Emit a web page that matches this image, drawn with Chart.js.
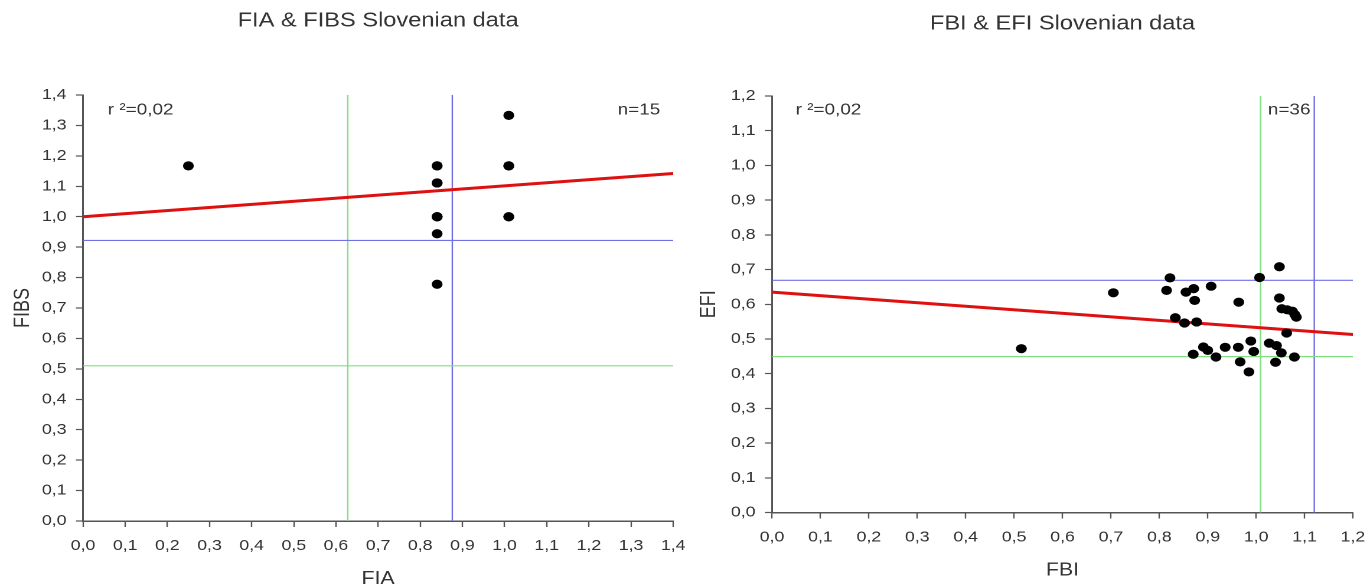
<!DOCTYPE html>
<html>
<head>
<meta charset="utf-8">
<script src="https://cdn.jsdelivr.net/npm/chart.js@4/dist/chart.umd.min.js"></script>
<style>
  html, body { margin: 0; padding: 0; background: #fff; }
  body { width: 1370px; height: 588px; position: relative; overflow: hidden; }
  /* each panel is drawn narrower and stretched sideways, like the exported figure */
  .panel { position: absolute; top: 0; width: 580px; height: 588px; transform: scaleX(1.181); transform-origin: 0 0; }
  #panelA { left: 0; }
  #panelB { left: 685px; }
</style>
</head>
<body>
<div class="panel" id="panelA"><canvas id="fiaChart"></canvas></div>
<div class="panel" id="panelB"><canvas id="fbiChart"></canvas></div>
<script>
const FONT = '"Liberation Sans", Arial, sans-serif';

// FIA vs FIBS (n=15, several points sit on top of each other)
const fiaX  = [0.25, 0.84, 0.84, 0.84, 0.84, 0.84, 1.01, 1.01, 1.01, 0.84, 0.84, 0.84, 1.01, 1.01, 0.84];
const fibsY = [1.167, 1.167, 1.111, 1.0, 0.944, 0.778, 1.333, 1.167, 1.0, 1.0, 1.167, 1.0, 1.0, 1.167, 1.111];
const fiaTrendX = [0, 1.4];
const fiaTrendY = [1.0, 1.142];
const fiaGreenX = 0.628, fiaBlueX = 0.876;
const fibsGreenY = 0.51, fibsBlueY = 0.922;
const fiaTicks  = [0.0, 0.1, 0.2, 0.3, 0.4, 0.5, 0.6, 0.7, 0.8, 0.9, 1.0, 1.1, 1.2, 1.3, 1.4];
const fibsTicks = [0.0, 0.1, 0.2, 0.3, 0.4, 0.5, 0.6, 0.7, 0.8, 0.9, 1.0, 1.1, 1.2, 1.3, 1.4];

// FBI vs EFI (n=36)
const fbiX = [0.515, 0.705, 0.822, 0.815, 0.855, 0.871, 0.873, 0.907, 0.833, 0.852, 0.877, 0.964,
              1.007, 1.048, 1.048, 1.053, 1.064, 1.075, 1.080, 1.083, 1.063, 0.870, 0.891, 0.900,
              0.917, 0.936, 0.963, 0.967, 0.985, 0.989, 0.995, 1.027, 1.042, 1.052, 1.040, 1.079];
const efiY = [0.472, 0.633, 0.676, 0.640, 0.635, 0.645, 0.611, 0.652, 0.561, 0.546, 0.549, 0.606,
              0.677, 0.708, 0.618, 0.587, 0.584, 0.580, 0.570, 0.563, 0.517, 0.456, 0.477, 0.467,
              0.448, 0.476, 0.476, 0.434, 0.405, 0.494, 0.464, 0.488, 0.481, 0.460, 0.433, 0.448];
const fbiTrendX = [0, 1.2];
const fbiTrendY = [0.635, 0.513];
const fbiGreenX = 1.009, fbiBlueX = 1.12;
const efiGreenY = 0.449, efiBlueY = 0.669;
const fbiTicks = [0.0, 0.1, 0.2, 0.3, 0.4, 0.5, 0.6, 0.7, 0.8, 0.9, 1.0, 1.1, 1.2];
const efiTicks = [0.0, 0.1, 0.2, 0.3, 0.4, 0.5, 0.6, 0.7, 0.8, 0.9, 1.0, 1.1, 1.2];

const RED = 'rgb(222,16,16)';
const BLUE = 'rgb(112,112,228)';
const GREEN = 'rgb(128,222,128)';
const INK = '#333';

const fmt = v => Number(v).toFixed(1).replace('.', ',');
const pts = (xs, ys) => xs.map((x, i) => ({ x: x, y: ys[i] }));

const panelText = {
  id: 'panelText',
  afterDraw(chart, args, o) {
    const { ctx, chartArea } = chart;
    ctx.save();
    ctx.fillStyle = INK;
    ctx.textBaseline = 'middle';
    ctx.font = '20px ' + FONT;
    ctx.textAlign = 'center';
    ctx.fillText(o.title, (chartArea.left + chartArea.right) / 2, o.titleY);
    ctx.font = '16px ' + FONT;
    ctx.textAlign = 'left';
    ctx.fillText(o.r2, chartArea.left + o.r2Dx, o.textY);
    ctx.textAlign = 'right';
    ctx.fillText(o.n, chartArea.right - o.nDx, o.textY);
    ctx.restore();
  }
};

function axis(ticks, title, size, titlePad, tickPad) {
  return {
    type: 'linear',
    min: ticks[0],
    max: ticks[ticks.length - 1],
    afterBuildTicks: s => { s.ticks = ticks.map(v => ({ value: v })); },
    afterFit: s => {
      // fixed box size, and no extra room for end labels
      if (s.isHorizontal()) s.height = size; else s.width = size;
      s.paddingLeft = s.paddingRight = s.paddingTop = s.paddingBottom = 0;
    },
    grid: { drawOnChartArea: false, drawTicks: true, tickLength: 6, tickColor: '#555', tickWidth: 1.2 },
    border: { display: true, color: '#555', width: 1.5 },
    ticks: { color: INK, font: { family: FONT, size: 15 }, padding: tickPad, maxRotation: 0, autoSkip: false, callback: v => fmt(v) },
    title: { display: true, text: title, color: INK, font: { family: FONT, size: 18, lineHeight: 1 }, padding: titlePad }
  };
}

function lineSet(data, color, width) {
  return { data: data, showLine: true, borderColor: color, borderWidth: width, pointRadius: 0, fill: false };
}

function makeChart(id, c) {
  return new Chart(document.getElementById(id), {
    type: 'scatter',
    data: {
      datasets: [
        { data: pts(c.xs, c.ys), pointRadius: 4.6, pointBackgroundColor: '#000', pointBorderWidth: 0 },
        lineSet(pts(c.trendX, c.trendY), RED, 3),
        lineSet([{ x: c.xMin, y: c.blueY }, { x: c.xMax, y: c.blueY }], BLUE, 1.2),
        lineSet([{ x: c.xMin, y: c.greenY }, { x: c.xMax, y: c.greenY }], GREEN, 1.2),
        lineSet([{ x: c.blueX, y: c.yMin }, { x: c.blueX, y: c.yMax }], BLUE, 1.2),
        lineSet([{ x: c.greenX, y: c.yMin }, { x: c.greenX, y: c.yMax }], GREEN, 1.2)
      ]
    },
    options: {
      responsive: true,
      maintainAspectRatio: false,
      animation: false,
      devicePixelRatio: 2,
      layout: { padding: c.pad },
      plugins: { legend: { display: false }, tooltip: { enabled: false }, panelText: c.text },
      scales: { x: c.x, y: c.y }
    },
    plugins: [panelText]
  });
}

makeChart('fiaChart', {
  xs: fiaX, ys: fibsY, trendX: fiaTrendX, trendY: fiaTrendY,
  xMin: 0, xMax: 1.4, yMin: 0, yMax: 1.4,
  blueX: fiaBlueX, greenX: fiaGreenX, blueY: fibsBlueY, greenY: fibsGreenY,
  pad: { top: 95, right: 10, left: 0, bottom: 0 },
  x: axis(fiaTicks, 'FIA', 67, { bottom: 0 }, 10),
  y: axis(fibsTicks, 'FIBS', 70.3, { top: 10.5 }, 8),
  text: { title: 'FIA & FIBS Slovenian data', titleY: 21, r2: 'r ²=0,02', n: 'n=15', textY: 110, r2Dx: 21, nDx: 11 }
});

makeChart('fbiChart', {
  xs: fbiX, ys: efiY, trendX: fbiTrendX, trendY: fbiTrendY,
  xMin: 0, xMax: 1.2, yMin: 0, yMax: 1.2,
  blueX: fbiBlueX, greenX: fbiGreenX, blueY: efiBlueY, greenY: efiGreenY,
  pad: { top: 96, right: 14.4, left: 0, bottom: 0 },
  x: axis(fbiTicks, 'FBI', 75.5, { bottom: 8.5 }, 10),
  y: axis(efiTicks, 'EFI', 73.7, { top: 11.7 }, 8),
  text: { title: 'FBI & EFI Slovenian data', titleY: 24, r2: 'r ²=0,02', n: 'n=36', textY: 110, r2Dx: 20, nDx: 36 }
});
</script>
</body>
</html>
